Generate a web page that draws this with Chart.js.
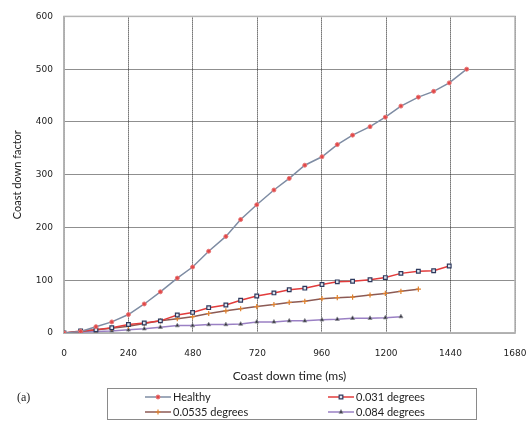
<!DOCTYPE html>
<html lang="en">
<head>
<meta charset="UTF-8" />
<title>Coast down factor vs coast down time</title>
<style>
  html, body { margin: 0; padding: 0; background: #fff; }
</style>
</head>
<body>
<canvas id="myChart" width="529" height="421"></canvas>

<script src="https://cdn.jsdelivr.net/npm/chart.js"></script>
<script>
// sample times (ms)
const times = [0, 62, 119, 178, 240, 299, 359, 422, 479, 539, 603, 658, 718,
  782, 839, 897, 961, 1018, 1075, 1140, 1197, 1255, 1320, 1377, 1435, 1500];

const healthy = [0, 3, 12, 21, 35, 55, 78, 104, 125, 155, 183, 215, 243,
  271, 293, 318, 334, 357, 375, 391, 409, 430, 447, 458, 474, 500];
const deg031 = [0, 4, 6, 10, 16, 19, 23, 34, 39, 48, 53, 62, 70,
  76, 82, 85, 92, 97, 98, 101, 105, 113, 117, 118, 127];
const deg0535 = [0, 3, 6, 9, 13, 18, 23, 27, 31, 37, 42, 46, 50,
  54, 58, 60, 65, 67, 68, 72, 75, 79, 83];
const deg084 = [0, 2, 3, 4, 6, 8, 11, 14, 14, 16, 16, 17, 21,
  21, 23, 23, 25, 26, 28, 28, 29, 31];

const seriesNames = ["Healthy", "0.031 degrees", "0.0535 degrees", "0.084 degrees"];

function toPoints(values) {
  return values.map((v, i) => ({ x: times[i], y: v }));
}

// frame round the plot area (top + right side too)
const frame = {
  id: "frame",
  beforeDatasetsDraw(chart) {
    const { ctx, chartArea: a } = chart;
    ctx.save();
    ctx.strokeStyle = "#b4b4b4";
    ctx.lineWidth = 1.5;
    ctx.strokeRect(a.left, a.top, a.right - a.left, a.bottom - a.top);
    ctx.restore();
  },
};

// boxed 2x2 legend under the axis + the "(a)" label
const legendBox = {
  id: "legendBox",
  afterDraw(chart) {
    const ctx = chart.ctx;
    ctx.save();
    ctx.strokeStyle = "#8a8a8a";
    ctx.lineWidth = 1;
    ctx.strokeRect(107.5, 388.5, 369, 31);

    const slots = [[145, 397], [328, 397], [145, 412], [328, 412]];
    chart.data.datasets.forEach((ds, i) => {
      const [x, y] = slots[i];
      ctx.strokeStyle = ds.borderColor;
      ctx.lineWidth = 1.5;
      ctx.beginPath();
      ctx.moveTo(x, y);
      ctx.lineTo(x + 26, y);
      ctx.stroke();

      ctx.fillStyle = ds.pointBackgroundColor;
      ctx.strokeStyle = ds.pointBorderColor;
      ctx.lineWidth = ds.pointBorderWidth;
      Chart.helpers.drawPoint(ctx, {
        pointStyle: ds.pointStyle,
        radius: ds.pointRadius,
        rotation: 0,
        borderWidth: ds.pointBorderWidth,
      }, x + 13, y);

      ctx.fillStyle = "#222";
      ctx.font = "11px Lato";
      ctx.textBaseline = "middle";
      ctx.textAlign = "left";
      ctx.fillText(ds.label, x + 28, y);
    });

    ctx.font = "12px 'Liberation Serif'";
    ctx.fillStyle = "#222";
    ctx.textBaseline = "middle";
    ctx.fillText("(a)", 17, 398);
    ctx.restore();
  },
};

const plainTick = (v) => String(v);

new Chart(document.getElementById("myChart"), {
  type: "line",
  data: {
    datasets: [
      {
        label: seriesNames[0],
        data: toPoints(healthy),
        borderColor: "#7e8ca3",
        borderWidth: 1.5,
        pointStyle: "circle",
        pointRadius: 2,
        pointBackgroundColor: "#e04848",
        pointBorderColor: "#e87878",
        pointBorderWidth: 1,
      },
      {
        label: seriesNames[1],
        data: toPoints(deg031),
        borderColor: "#e23c3c",
        borderWidth: 1.5,
        pointStyle: "rect",
        pointRadius: 2.6,
        pointBackgroundColor: "#dfe6f0",
        pointBorderColor: "#2e3a5e",
        pointBorderWidth: 1.2,
      },
      {
        label: seriesNames[2],
        data: toPoints(deg0535),
        borderColor: "#8c5a54",
        borderWidth: 1.5,
        pointStyle: "cross",
        pointRadius: 2.6,
        pointBackgroundColor: "#e0822e",
        pointBorderColor: "#e0822e",
        pointBorderWidth: 1.2,
      },
      {
        label: seriesNames[3],
        data: toPoints(deg084),
        borderColor: "#9a80c4",
        borderWidth: 1.5,
        pointStyle: "triangle",
        pointRadius: 2.4,
        pointBackgroundColor: "#2f2f3a",
        pointBorderColor: "#8c8c96",
        pointBorderWidth: 0.8,
      },
    ],
  },
  options: {
    responsive: false,
    animation: false,
    layout: { padding: { top: 15, right: 2, left: 0, bottom: 38 } },
    plugins: {
      legend: { display: false },
      tooltip: { enabled: false },
    },
    scales: {
      x: {
        type: "linear",
        min: 0,
        max: 1680,
        afterFit: (s) => {
          s.height = 50;
          // tick padding pushes labels down, don't let it shrink the plot sideways
          s.paddingLeft = 0;
          s.paddingRight = 14;
        },
        ticks: {
          stepSize: 240,
          padding: 15,
          maxRotation: 0,
          color: "#222",
          callback: plainTick,
          font: { family: "DejaVu Sans", size: 9 },
        },
        grid: { color: "#1e1e1e", lineWidth: 1, drawTicks: false },
        border: { color: "#b4b4b4", width: 1.5, dash: [1, 1] },
        title: {
          display: true,
          text: "Coast down time (ms)",
          color: "#222",
          font: { family: "Lato", size: 12 },
          padding: { top: 0, bottom: 0 },
        },
      },
      y: {
        min: 0,
        max: 600,
        afterFit: (s) => { s.width = 64; },
        ticks: {
          stepSize: 100,
          padding: 11,
          color: "#222",
          callback: plainTick,
          font: { family: "DejaVu Sans", size: 9 },
        },
        grid: { color: "#1e1e1e", lineWidth: 1, drawTicks: false },
        border: { color: "#b4b4b4", width: 1.5, dash: [1, 1] },
        title: {
          display: true,
          text: "Coast down factor",
          color: "#222",
          font: { family: "Lato", size: 11 },
          padding: { top: 11, bottom: 0 },
        },
      },
    },
  },
  plugins: [frame, legendBox],
});
</script>
</body>
</html>
